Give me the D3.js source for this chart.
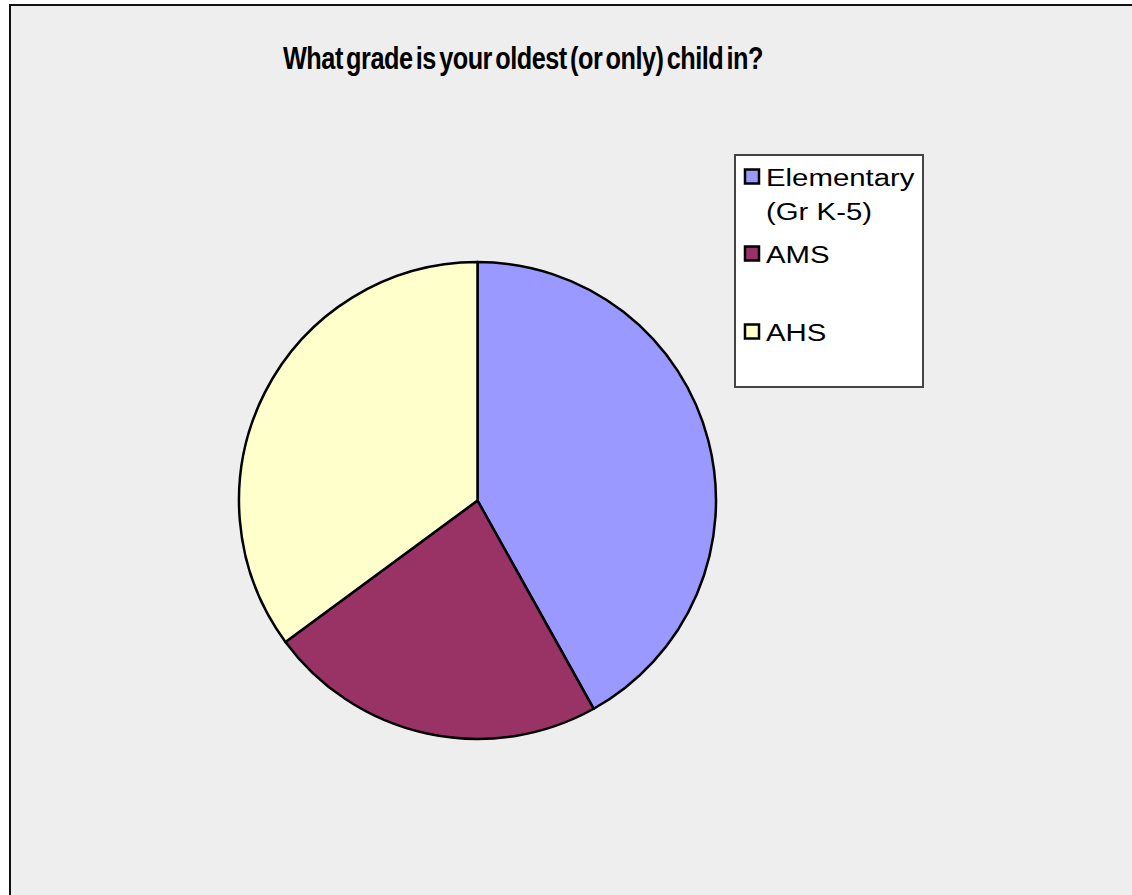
<!DOCTYPE html>
<html>
<head>
<meta charset="utf-8">
<script src="https://cdn.jsdelivr.net/npm/d3@7"></script>
<style>
  html, body { margin: 0; padding: 0; background: #ffffff; }
  svg { display: block; }
</style>
</head>
<body>
<svg id="chart" width="1132" height="895"></svg>
<script>
const title = "What grade is your oldest (or only) child in?";
const categories = ["Elementary (Gr K-5)", "AMS", "AHS"];
const legendLines = [["Elementary", "(Gr K-5)"], ["AMS"], ["AHS"]];
const values = [41.9, 23.0, 35.1];
const colors = ["#9999FF", "#993366", "#FFFFCC"];

const svg = d3.select("#chart");

// chart area background + border
svg.append("rect")
  .attr("x", 10).attr("y", 5)
  .attr("width", 1140).attr("height", 900)
  .attr("fill", "#eeeeee")
  .attr("stroke", "#111")
  .attr("stroke-width", 2);

// title
svg.append("text")
  .attr("x", 283).attr("y", 69)
  .attr("font-family", "Liberation Sans, Arial, sans-serif")
  .attr("font-weight", "bold")
  .attr("font-size", 31)
  .attr("word-spacing", -4)
  .attr("letter-spacing", -0.6)
  .attr("textLength", 480)
  .attr("lengthAdjust", "spacingAndGlyphs")
  .attr("fill", "#000")
  .text(title);

// pie
const cx = 477.5, cy = 500.5, r = 238.5;
const pie = d3.pie().sort(null).value(d => d);
const arc = d3.arc().innerRadius(0).outerRadius(r);
const color = d3.scaleOrdinal().domain(categories).range(colors);

const g = svg.append("g").attr("transform", `translate(${cx},${cy})`);
g.selectAll("path")
  .data(pie(values))
  .join("path")
  .attr("d", arc)
  .attr("fill", (d, i) => color(categories[i]))
  .attr("stroke", "#000")
  .attr("stroke-width", 2.5)
  .attr("stroke-linejoin", "round");

// legend
const lg = svg.append("g");
lg.append("rect")
  .attr("x", 735).attr("y", 155)
  .attr("width", 188).attr("height", 232)
  .attr("fill", "#ffffff")
  .attr("stroke", "#444")
  .attr("stroke-width", 2);

const legendY = [186, 263, 341];
categories.forEach((c, i) => {
  const by = legendY[i];
  lg.append("rect")
    .attr("x", 745).attr("y", by - 16.5)
    .attr("width", 14).attr("height", 14)
    .attr("fill", color(c))
    .attr("stroke", "#000")
    .attr("stroke-width", 2.5);
  legendLines[i].forEach((line, j) => {
    lg.append("text")
      .attr("transform", `translate(766,${by + j * 34}) scale(1.25,1)`)
      .attr("font-family", "Liberation Sans, Arial, sans-serif")
      .attr("font-size", 23.5)
      .attr("fill", "#000")
      .text(line);
  });
});
</script>
</body>
</html>
